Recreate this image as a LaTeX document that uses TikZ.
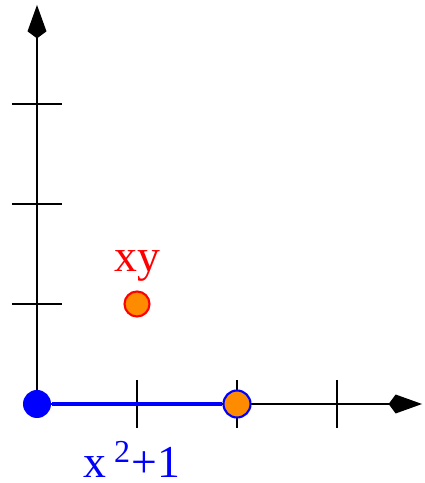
\documentclass[tikz,border=0pt]{standalone}
\usepackage{fontspec}
\setmainfont{Liberation Serif}
\usetikzlibrary{arrows.meta}
\definecolor{dotorange}{RGB}{255,140,0}

\begin{document}
\begin{tikzpicture}[x=1cm, y=1cm,
		axis/.style={line width=.6pt, -{Kite[length=9.5pt, width=5.4pt, inset=2pt]}},
		tick/.style={line width=.6pt},
		dot/.style={circle, inner sep=0pt, minimum size=#1, line width=.6pt},
		lbl/.style={inner sep=0pt, anchor=base, font=\fontsize{13}{15}\selectfont}]
				\useasboundingbox (-0.37,-0.79) rectangle (3.87,4.04);
				\node[shape=coordinate] (o) at (0,0) {};
				\node[shape=coordinate] (xend) at (3.85,0) {};
				\node[shape=coordinate] (yend) at (0,3.99) {};
				\draw[axis] (o) -- (xend);
				\draw[axis] (o) -- (yend);
				\foreach \t in {1,2,3} {
					\draw[tick] (\t,-0.24) -- (\t,0.24);
					\draw[tick] (-0.25,\t) -- (0.25,\t);
				}
				\node[dot=0.28cm, fill=blue] (a) at (o) {};
				\node[dot=0.27cm, draw=blue, fill=dotorange] (b) at (2,0) {};
				\draw[blue, line width=1.2pt] (a) -- (b);
				\node[dot=0.25cm, draw=red, fill=dotorange] (p) at (1,1) {};
				\node[lbl, red] (plabel) at (1,1.32) {xy};
				\node[lbl, blue] (alabel) at (0.95,-0.735) {x\,$^{\mathrm{2}}$+1};
			\end{tikzpicture}
\end{document}
